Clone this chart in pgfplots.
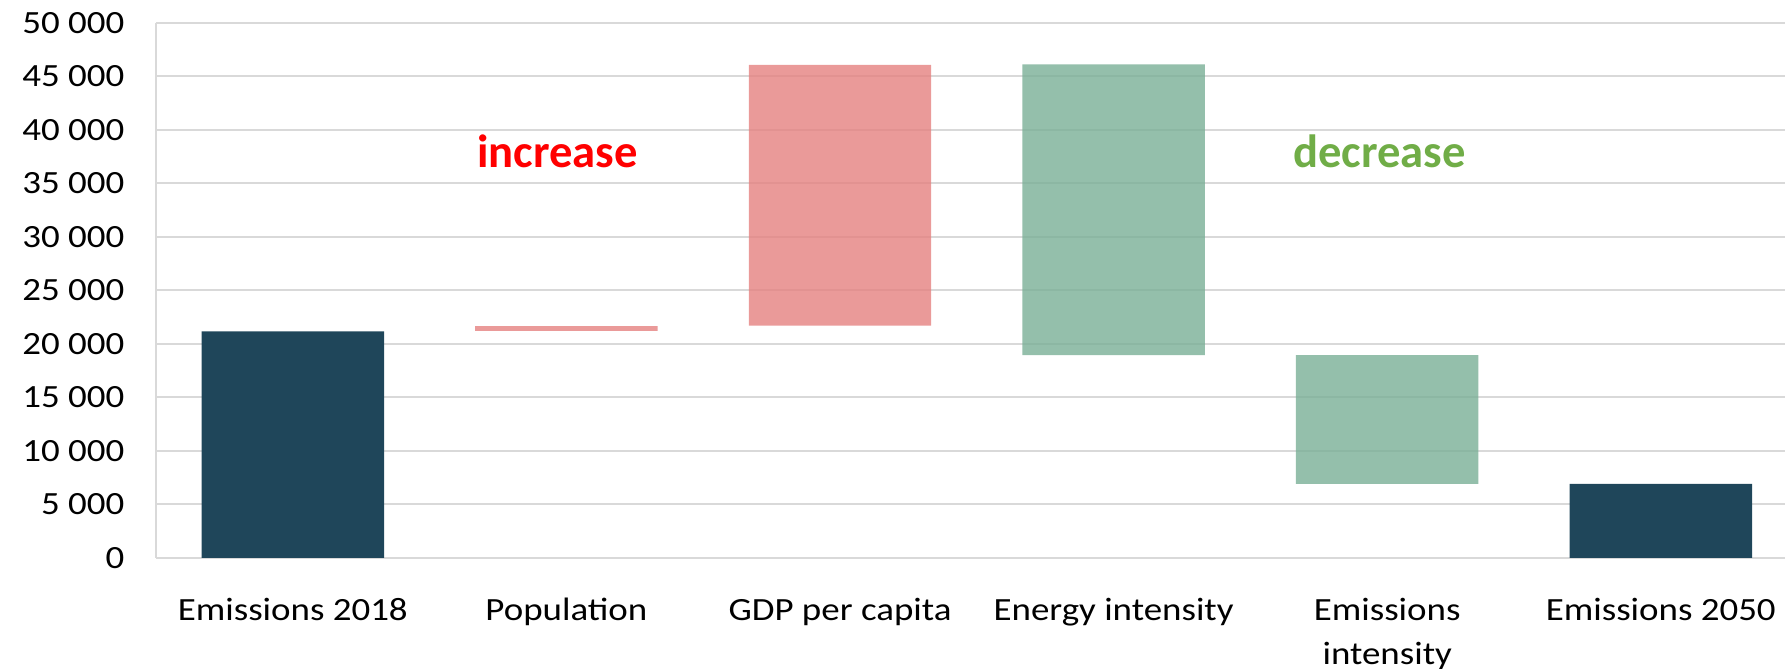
\documentclass[border=0pt]{standalone}
\usepackage{fontspec}
\setmainfont{Carlito}[FakeStretch=1.14]
\newfontfamily\boldlab{Carlito}[FakeStretch=1.0]
\usepackage{pgfplots}
\pgfplotsset{compat=1.18}
\definecolor{darkbar}{HTML}{1F465A}
\definecolor{pinkbar}{HTML}{E58180}
\definecolor{greenbar}{HTML}{79AF96}
\definecolor{gridgrey}{HTML}{D9D9D9}
\definecolor{incred}{HTML}{FF0000}
\definecolor{decgreen}{HTML}{70AD47}
\begin{document}
\begin{tikzpicture}
\begin{axis}[
  name=ax,
  scale only axis,
  width=814.5pt, height=267.5pt,
  xmin=-0.5, xmax=5.454,
  ymin=0, ymax=50000,
  ybar stacked,
  bar width=0.667,
  axis lines*=left,
  axis line style={gridgrey, line width=0.8pt},
  ymajorgrids,
  grid style={gridgrey, line width=0.8pt},
  major tick length=0,
  scaled y ticks=false,
  xtick={0,1,2,3,4,5},
  xticklabels={Emissions 2018, Population, GDP per capita, Energy intensity, {Emissions\\intensity}, Emissions 2050},
  ytick={0,5000,10000,15000,20000,25000,30000,35000,40000,45000,50000},
  yticklabels={0,5 000,10 000,15 000,20 000,25 000,30 000,35 000,40 000,45 000,50 000},
  every tick label/.append style={font=\fontsize{16.2}{22}\selectfont, text=black},
  xticklabel style={align=center, yshift=-16.5pt},
  yticklabel style={xshift=-12.3pt},
  clip=false,
]
% invisible base
\addplot[fill=none, draw=none] coordinates {(0,0) (1,21200) (2,21700) (3,18940) (4,6915) (5,0)};
% totals
\addplot[fill=darkbar, draw=none] coordinates {(0,21170) (1,0) (2,0) (3,0) (4,0) (5,6915)};
% increases
\addplot[fill=pinkbar, fill opacity=0.8, draw=none] coordinates {(0,0) (1,450) (2,24360) (3,0) (4,0) (5,0)};
% decreases
\addplot[fill=greenbar, fill opacity=0.8, draw=none] coordinates {(0,0) (1,0) (2,0) (3,27180) (4,12025) (5,0)};
\node[anchor=base, font=\boldlab\bfseries\fontsize{23.3}{26}\selectfont, text=incred] at (axis cs:0.967,36490) {increase};
\node[anchor=base, font=\boldlab\bfseries\fontsize{23.3}{26}\selectfont, text=decgreen] at (axis cs:3.972,36490) {decrease};
\end{axis}
\pgfresetboundingbox
\path ([xshift=-78pt,yshift=-55.6pt]ax.south west) rectangle ([yshift=11.4pt]ax.north east);
\end{tikzpicture}
\end{document}
